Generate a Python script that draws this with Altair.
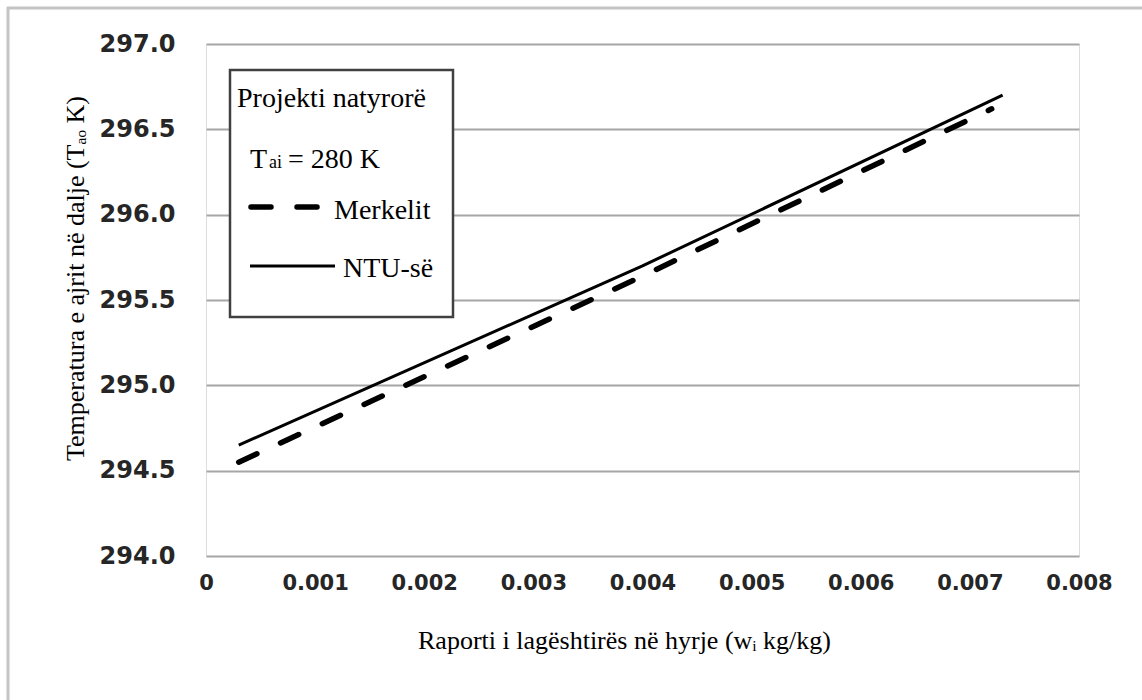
import altair as alt
import pandas as pd

# Inlet humidity ratio (kg/kg) vs. outlet air temperature (K)
ntu_w = [0.0003, 0.004, 0.0073]
ntu_t = [294.65, 295.70, 296.70]
merkel_w = [0.0003, 0.004, 0.0072]
merkel_t = [294.55, 295.64, 296.62]

y_ticks = [294.0, 294.5, 295.0, 295.5, 296.0, 296.5, 297.0]
x_ticks = [0, 0.001, 0.002, 0.003, 0.004, 0.005, 0.006, 0.007, 0.008]

W, H = 873, 512
SERIF = "Liberation Serif"
SANS = "DejaVu Sans"

ntu = pd.DataFrame({"w": ntu_w, "t": ntu_t})
merkel = pd.DataFrame({"w": merkel_w, "t": merkel_t})
one = pd.DataFrame({"k": [0]})

x_enc = alt.X(
    "w:Q",
    scale=alt.Scale(domain=[0, 0.008], nice=False, zero=False),
    axis=alt.Axis(
        values=x_ticks,
        labelExpr="datum.value == 0 ? '0' : format(datum.value, '.3f')",
        grid=False, domain=False, ticks=False, tickSize=0,
        labelFlush=False, labelOverlap=False,
        labelFont=SANS, labelFontWeight="bold", labelFontSize=21,
        labelColor="#262626", labelPadding=16,
        title="Raporti i lagështirës në hyrje (wᵢ kg/kg)",
        titleFont=SERIF, titleFontSize=26, titleFontWeight="normal",
        titleColor="#000000", titleX=418, titleY=84, titleBaseline="middle",
    ),
)
y_enc = alt.Y(
    "t:Q",
    scale=alt.Scale(domain=[294, 297], nice=False, zero=False),
    axis=alt.Axis(
        values=y_ticks, format=".1f",
        grid=True, gridColor="#a6a6a6", gridWidth=2,
        domain=False, ticks=False, tickSize=0,
        labelFlush=False, labelOverlap=False,
        labelFont=SANS, labelFontWeight="bold", labelFontSize=24,
        labelColor="#262626", labelPadding=31,
        title="Temperatura e ajrit në dalje (Tₐₒ K)",
        titleFont=SERIF, titleFontSize=26, titleFontWeight="normal",
        titleColor="#000000", titleAngle=270, titleX=-131, titleY=234,
        titleBaseline="middle",
    ),
)

# outer frame edges (left and top) around the figure
frame_left = alt.Chart(one).mark_rule(color="#c4c4c4", strokeWidth=3).encode(
    x=alt.value(-198), y=alt.value(-37), y2=alt.value(656)
)
frame_top = alt.Chart(one).mark_rule(color="#c4c4c4", strokeWidth=3).encode(
    x=alt.value(-199), x2=alt.value(936), y=alt.value(-36)
)

ntu_line = alt.Chart(ntu).mark_line(color="#000000", strokeWidth=3).encode(x=x_enc, y=y_enc)
merkel_line = alt.Chart(merkel).mark_line(
    color="#000000", strokeWidth=5.5, strokeDash=[20, 26], strokeCap="round"
).encode(x="w:Q", y="t:Q")

# legend box
box = alt.Chart(one).mark_rect(fill="#ffffff", stroke="#404040", strokeWidth=2.5).encode(
    x=alt.value(24), x2=alt.value(247), y=alt.value(26), y2=alt.value(273)
)

def label(txt, x, y, size=28):
    return alt.Chart(one).mark_text(
        text=txt, font=SERIF, fontSize=size, align="left", baseline="alphabetic", color="#000000"
    ).encode(x=alt.value(x), y=alt.value(y))

leg_title = label("Projekti natyrorë", 31, 63)
leg_t = label("T", 44, 124)
leg_sub = label("ai", 63, 124, size=18)
leg_eq = label("= 280 K", 82, 124)
leg_dash = alt.Chart(one).mark_rule(
    color="#000000", strokeWidth=5.5, strokeDash=[20, 26], strokeCap="round"
).encode(x=alt.value(45), x2=alt.value(117), y=alt.value(163))
leg_merkel = label("Merkelit", 128, 175)
leg_solid = alt.Chart(one).mark_rule(color="#000000", strokeWidth=3).encode(
    x=alt.value(44), x2=alt.value(129), y=alt.value(222)
)
leg_ntu = label("NTU-së", 137, 233)

chart = alt.layer(
    frame_left, frame_top, ntu_line, merkel_line, box, leg_title, leg_t, leg_sub, leg_eq,
    leg_dash, leg_merkel, leg_solid, leg_ntu,
).properties(
    width=W, height=H,
    autosize=alt.AutoSizeParams(type="none"),
    padding={"left": 206, "top": 44, "right": 1142 - 206 - W, "bottom": 700 - 44 - H},
).configure_view(
    stroke="#8c8c8c", strokeWidth=3
).configure(background="#ffffff")

chart.save("out.html", embed_options={"renderer": "svg", "actions": False})
